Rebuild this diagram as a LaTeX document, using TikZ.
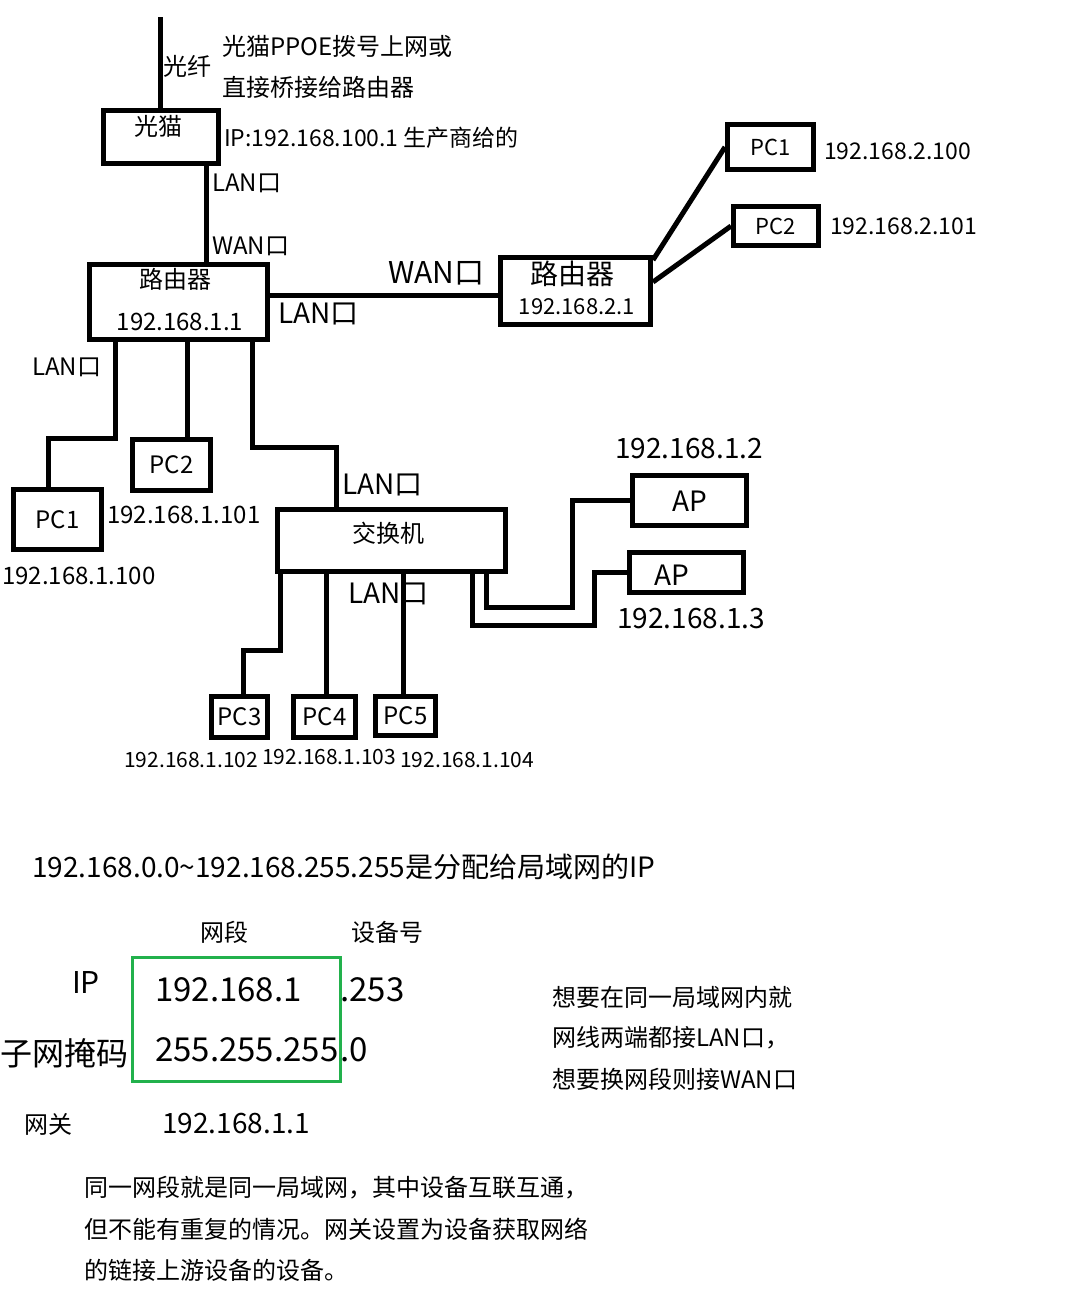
\documentclass[tikz,border=0pt]{standalone}
\usepackage{fontspec}
\setmainfont{Noto Sans CJK SC}
\usetikzlibrary{positioning, calc}
\definecolor{boxgreen}{HTML}{22B14C}
\newcommand{\fsz}[1]{\fontsize{#1}{#1}\selectfont}

\begin{document}
\begin{tikzpicture}[
    x=1pt, y=-1pt,
    dev/.style={draw, line width=5pt, inner sep=0pt, font=\fsz{24}},
    wire/.style={line width=5pt},
    txt/.style={inner sep=0pt, anchor=west, font=\fsz{#1}},
    txt/.default=22,
    ctxt/.style={inner sep=0pt, font=\fsz{#1}},
    ctxt/.default=24
]
    \fill[white] (0,0) rectangle (1068,1296);
    \useasboundingbox (0,0) rectangle (1068,1296);

    % Devices
    \node[dev, minimum width=115pt, minimum height=53pt] (modem) at (161,137) {};
    \node[dev, minimum width=178pt, minimum height=75pt] (router1) at (178.5,302) {};
    \node[dev, minimum width=150pt, minimum height=67pt] (router2) at (575.5,291) {};
    \node[dev, minimum width=86pt, minimum height=45pt, font=\fsz{22}] (rpc1) at (770.5,147) {PC1};
    \node[dev, minimum width=85pt, minimum height=39pt, font=\fsz{22}] (rpc2) at (776,226) {PC2};
    \node[dev, minimum width=88pt, minimum height=60pt] (pc1) at (57.5,519.5) {PC1};
    \node[dev, minimum width=78pt, minimum height=51pt] (pc2) at (171.5,465) {PC2};
    \node[dev, minimum width=228pt, minimum height=62pt] (switch) at (391.5,540.5) {};
    \node[dev, minimum width=56pt, minimum height=41pt] (pc3) at (239.5,717) {PC3};
    \node[dev, minimum width=62pt, minimum height=41pt] (pc4) at (324.5,717) {PC4};
    \node[dev, minimum width=60pt, minimum height=39pt] (pc5) at (405.5,716) {PC5};
    \node[dev, minimum width=114pt, minimum height=50pt] (ap1) at (689.5,500.5) {};
    \node[dev, minimum width=114pt, minimum height=40pt] (ap2) at (686.5,572.5) {};

    % Texts in the boxes
    \node[ctxt] (modemname) at (158,126) {光猫};
    \node[ctxt] (router1name) at (175,279) {路由器};
    \node[ctxt] (router1ip) at (180,322) {192.168.1.1};
    \node[ctxt=28] (router2name) at (572,274) {路由器};
    \node[ctxt=22] (router2ip) at (577,307) {192.168.2.1};
    \node[ctxt] (switchname) at (388,533) {交换机};
    \node[ctxt=28] (ap1name) at (690,501) {AP};
    \node[ctxt=28] (ap2name) at (672,575) {AP};

    % Labels
    \node[txt=24] (fiber) at (163,66) {光纤};
    \node[txt=24] (note1) at (222,46) {光猫PPOE拨号上网或};
    \node[txt=24] (note2) at (222,87) {直接桥接给路由器};
    \node[txt=23] (modemip) at (224,138) {IP:192.168.100.1 生产商给的};
    \node[txt=24] (modemlan) at (212,183) {LAN口};
    \node[txt=24] (r1wan) at (212,246) {WAN口};
    \node[txt=30] (r2wan) at (388,273) {WAN口};
    \node[txt=28] (r1lan) at (278,314) {LAN口};
    \node[txt=23] (rpc1ip) at (824,151) {192.168.2.100};
    \node[txt=23] (rpc2ip) at (830,226) {192.168.2.101};
    \node[txt=24] (r1lan2) at (32,367) {LAN口};
    \node[txt=24] (pc2ip) at (107,515) {192.168.1.101};
    \node[txt=24] (pc1ip) at (2,576) {192.168.1.100};
    \node[txt=28] (swlan1) at (342,485) {LAN口};
    \node[txt=28] (swlan2) at (348,594) {LAN口};
    \node[txt=21] (pc3ip) at (124,760) {192.168.1.102};
    \node[txt=21] (pc4ip) at (262,757) {192.168.1.103};
    \node[txt=21] (pc5ip) at (400,760) {192.168.1.104};
    \node[txt=28] (ap1ip) at (615,449) {192.168.1.2};
    \node[txt=28] (ap2ip) at (617,619) {192.168.1.3};

    % Wires
    \coordinate (fibertop) at (160,17);
    \draw[wire] (fibertop) -- (fibertop |- modem.north);
    \draw[wire] ([xshift=45pt]modem.south) -- ([xshift=45pt]modem.south |- router1.north);
    \draw[wire] ([yshift=7pt]router1.east) -- ([yshift=7pt]router1.east -| router2.west);
    \draw[wire] ([yshift=-5pt]router2.north east) -- (rpc1.west);
    \draw[wire] ([yshift=9pt]router2.east) -- (rpc2.west);
    \draw[wire] ([xshift=-63.5pt]router1.south) -- ++(0,96.5) -| ([xshift=-9.5pt]pc1.north);
    \draw[wire] ([xshift=8.5pt]router1.south) -- ([xshift=15.5pt]pc2.north);
    \draw[wire] ([xshift=73.5pt]router1.south) -- ++(0,105.5) -| ([xshift=-55.5pt]switch.north);
    \draw[wire] ([xshift=-111.5pt]switch.south) -- ++(0,76.5) -| ([xshift=3.5pt]pc3.north);
    \draw[wire] ([xshift=-65.5pt]switch.south) -- ([xshift=1.5pt]pc4.north);
    \draw[wire] ([xshift=11.5pt]switch.south) -- ([xshift=-2.5pt]pc5.north);
    \draw[wire] ([xshift=94.5pt]switch.south) -- ++(0,33.5) -- ++(86,0) |- (ap1.west);
    \draw[wire] ([xshift=80.5pt]switch.south) -- ++(0,51.5) -- ++(122,0) |- (ap2.west);

    % Address notes
    \node[txt=28] (range) at (32,867) {192.168.0.0\textasciitilde192.168.255.255是分配给局域网的IP};
    \node[ctxt] (seghead) at (224,932) {网段};
    \node[ctxt] (devhead) at (387,932) {设备号};
    \node[ctxt=30] (iphead) at (86,982) {IP};
    \node[txt=33] (ipnet) at (155,990) {192.168.1};
    \node[txt=33] (iphost) at (340,990) {.253};
    \node[txt=32] (maskhead) at (0,1053) {子网掩码};
    \node[txt=33] (masknet) at (155,1050) {255.255.255};
    \node[txt=33] (maskhost) at (340,1050) {.0};
    \draw[boxgreen, line width=3pt] (132.5,957.5) rectangle (340.5,1081.5);
    \node[ctxt] (gwhead) at (48,1124) {网关};
    \node[txt=28] (gwip) at (162,1124) {192.168.1.1};
    \node[txt=24] (tip1) at (552,997) {想要在同一局域网内就};
    \node[txt=24] (tip2) at (552,1038) {网线两端都接LAN口，};
    \node[txt=24] (tip3) at (552,1079) {想要换网段则接WAN口};
    \node[txt=24] (para1) at (84,1188) {同一网段就是同一局域网，其中设备互联互通，};
    \node[txt=24] (para2) at (84,1229) {但不能有重复的情况。网关设置为设备获取网络};
    \node[txt=24] (para3) at (84,1270) {的链接上游设备的设备。};
\end{tikzpicture}
\end{document}
